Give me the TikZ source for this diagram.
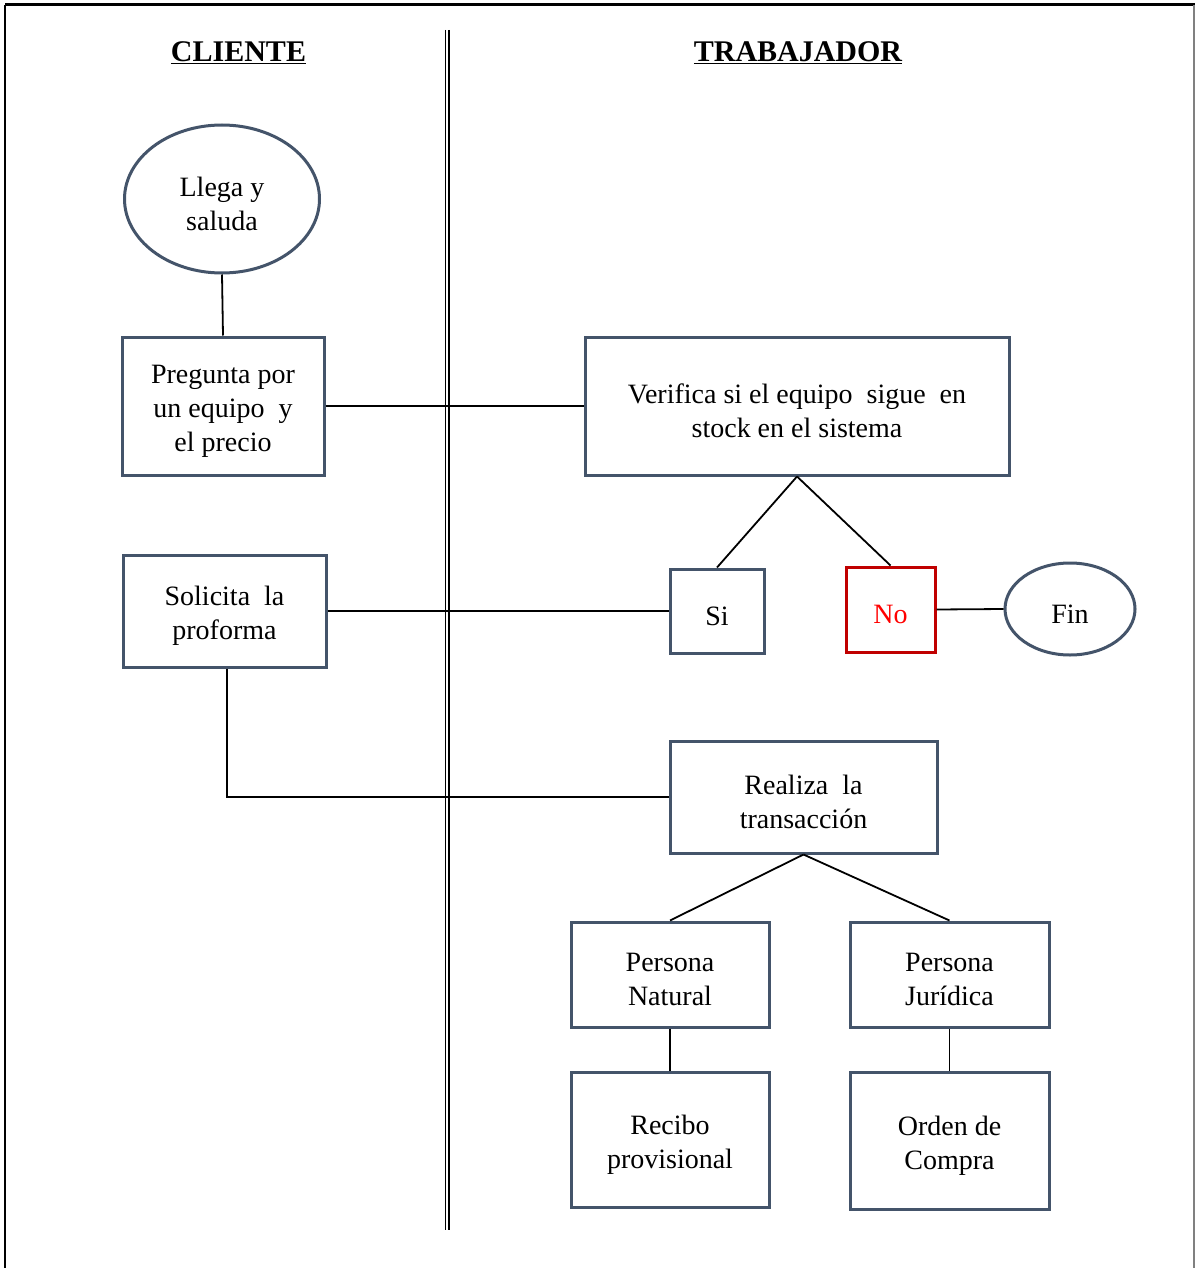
\documentclass[tikz,border=0pt]{standalone}
\usepackage{fontspec}
\setmainfont{Liberation Serif}
\usetikzlibrary{shapes.geometric}
\definecolor{boxc}{RGB}{68,84,106}
\definecolor{nored}{RGB}{192,0,0}
\begin{document}
\begin{tikzpicture}[x=1pt,y=-1pt,
  txt/.style={font=\fontsize{28}{34}\selectfont, align=center, text=black},
  inside/.style={label={[txt, yshift=-5pt]center:{#1}}},
  stepbox/.style={draw=boxc, line width=3pt, fill=white, rectangle, inner sep=0pt},
  oval/.style={draw=boxc, line width=3pt, fill=white, ellipse, inner sep=0pt},
  link/.style={draw=black, line width=1.8pt},
  title/.style={font=\fontsize{30}{34}\selectfont\bfseries, anchor=base}]
\useasboundingbox (0,0) rectangle (1195,1268);

% page frame
\draw[line width=3pt] (5,5) -- (1195,5);
\draw[line width=2pt] (5,5) -- (5,1268);
\draw[gray, line width=1.5pt] (1194,5) -- (1194,1268);

% lane divider
\draw[line width=1.5pt] (445.5,30) -- (445.5,1230);
\draw[line width=1.5pt] (449,30) -- (449,1230);

% lane titles
\node[title] (tcli) at (238.5,62) {\underline{CLIENTE}};
\node[title] (ttra) at (798,62) {\underline{TRABAJADOR}};

% client lane
\node[oval, minimum width=195, minimum height=148, inside={Llega y\\saluda}] (llega) at (222,199) {};
\node[stepbox, minimum width=202, minimum height=138, inside={Pregunta por\\un equipo\ \ y\\el precio}] (preg) at (223,406) {};
\node[stepbox, minimum width=203, minimum height=112, inside={Solicita\ \ la\\proforma}] (solic) at (224.5,611) {};

% worker lane
\node[stepbox, minimum width=424, minimum height=138, inside={Verifica si el equipo\ \ sigue\ \ en\\stock en el sistema}] (verif) at (797,406) {};
\node[stepbox, minimum width=94, minimum height=84, inside={Si}] (si) at (717,611) {};
\node[stepbox, draw=nored, minimum width=89, minimum height=85, label={[txt, text=red, yshift=-5pt]center:No}] (no) at (890.5,609.5) {};
\node[oval, minimum width=130, minimum height=92, inside={Fin}] (fin) at (1070,609) {};
\node[stepbox, minimum width=267, minimum height=112, inside={Realiza\ \ la\\transacción}] (real) at (803.5,797) {};
\node[stepbox, minimum width=198, minimum height=105, inside={Persona\\Natural}] (pnat) at (670,974.5) {};
\node[stepbox, minimum width=199, minimum height=105, inside={Persona\\Jurídica}] (pjur) at (949.5,974.5) {};
\node[stepbox, minimum width=198, minimum height=135, inside={Recibo\\provisional}] (recibo) at (670,1139.5) {};
\node[stepbox, minimum width=199, minimum height=137, inside={Orden de\\Compra}] (orden) at (949.5,1140.5) {};

% connectors
\draw[link] (llega.south) -- (preg.north);
\draw[link] (preg.east) -- (verif.west);
\draw[link] (verif.south) -- (si.north);
\draw[link] (verif.south) -- (no.north);
\draw[link] (no.east) -- (fin.west);
\draw[link] (solic.east) -- (si.west);
\draw[link] ([xshift=2.5pt]solic.south) -- ([xshift=2.5pt]solic.south |- real.west) -- (real.west);
\draw[link] (real.south) -- (pnat.north);
\draw[link] (real.south) -- (pjur.north);
\draw[link] (pnat.south) -- (recibo.north);
\draw[link] (pjur.south) -- (orden.north);
\end{tikzpicture}
\end{document}
